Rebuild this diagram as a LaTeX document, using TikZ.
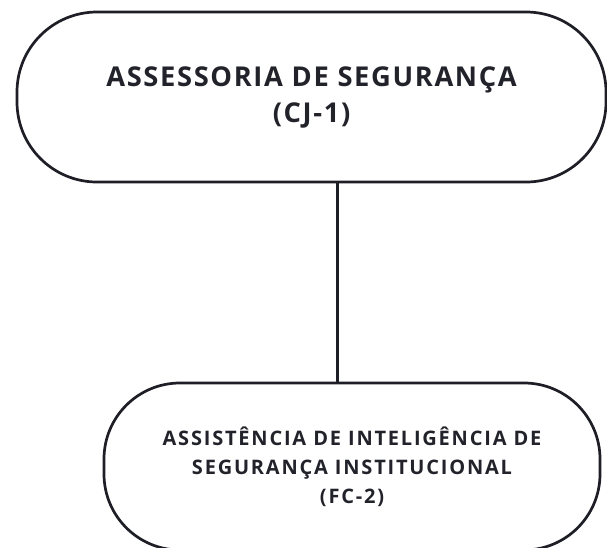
\documentclass[tikz,border=0pt]{standalone}
\usepackage{fontspec}
\newfontfamily\segfont{Open Sans}[LetterSpace=6]
\newfontfamily\aisfont{Open Sans}[LetterSpace=9]
\definecolor{orgline}{RGB}{30,30,38}
\definecolor{orgtext}{RGB}{34,34,42}

\tikzset{every picture/.style={line width=2.7pt}}
\tikzset{orgbox/.style={draw=orgline, rounded corners=80pt, align=center, text=orgtext, inner sep=0pt}}

\begin{document}
\begin{tikzpicture}[x=1pt,y=1pt,yscale=-1,xscale=1]
\useasboundingbox (0,0) rectangle (607,547);

%Shape: Rounded Rect, upper box
\node [orgbox, minimum width=589pt, minimum height=170pt] (seg) at (311.5,97) [font=\segfont\bfseries\fontsize{27.3}{36}\selectfont] {ASSESSORIA DE SEGURANÇA\\(CJ-1)};
%Shape: Rounded Rect, lower box
\node [orgbox, minimum width=496pt, minimum height=167pt, rounded corners=76pt] (ais) at (352,466.5) [font=\aisfont\bfseries\fontsize{20}{29}\selectfont] {ASSISTÊNCIA DE INTELIGÊNCIA DE\\SEGURANÇA INSTITUCIONAL\\(FC-2)};

%Straight Lines
\draw [orgline]   ([xshift=26.2pt]seg.south) -- ([xshift=-14.3pt]ais.north) ;

\end{tikzpicture}
\end{document}
